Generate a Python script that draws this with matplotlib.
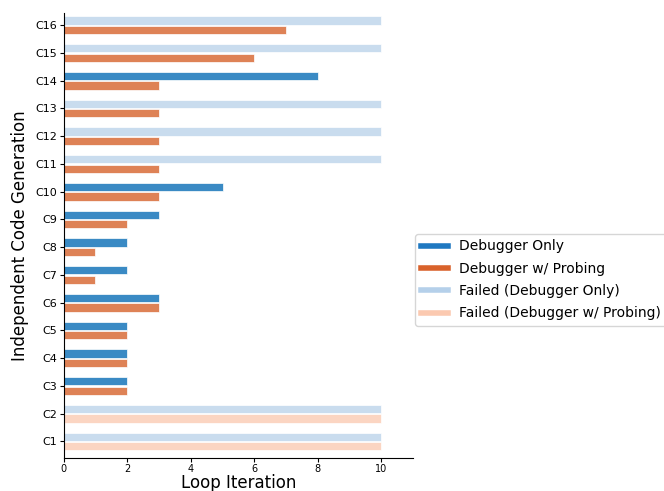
import numpy as np
import matplotlib.pyplot as plt
from matplotlib.lines import Line2D

# data (None = failed, drawn at max iterations)
categories = ["C%d" % i for i in range(1, 17)]
debugger_only = [None, None, 2, 2, 2, 3, 2, 2, 3, 5, None, None, None, 8, None, None]
debugger_probing = [None, None, 2, 2, 2, 3, 1, 1, 2, 3, 3, 3, 3, 3, 6, 7]
max_iter = 10

c_blue = '#3a8ac4'
c_orange = '#de8256'
c_fail_blue = '#c9dcee'
c_fail_orange = '#fbd5c2'

fig = plt.figure(figsize=(6.64, 4.91), dpi=100)
ax = fig.add_axes([0.096, 0.067, 0.526, 0.907])

y = np.arange(len(categories))
h = 0.3
off = 0.17

for i, (d, p) in enumerate(zip(debugger_only, debugger_probing)):
    if d is None:
        ax.barh(y[i] + off, max_iter, height=h, color=c_fail_blue, edgecolor='white', linewidth=0.5)
    else:
        ax.barh(y[i] + off, d, height=h, color=c_blue, edgecolor='white', linewidth=0.5)
    if p is None:
        ax.barh(y[i] - off, max_iter, height=h, color=c_fail_orange, edgecolor='white', linewidth=0.5)
    else:
        ax.barh(y[i] - off, p, height=h, color=c_orange, edgecolor='white', linewidth=0.5)

ax.set_yticks(y)
ax.set_yticklabels(categories, fontsize=8)
ax.set_xticks([0, 2, 4, 6, 8, 10])
ax.tick_params(axis='x', labelsize=7, length=3, pad=1.5)
ax.tick_params(axis='y', length=3, pad=2)
ax.set_xlim(0, 11)
ax.set_ylim(-0.6, 15.45)
ax.spines['top'].set_visible(False)
ax.spines['right'].set_visible(False)
ax.set_xlabel('Loop Iteration', fontsize=12, labelpad=0)
ax.set_ylabel('Independent Code Generation', fontsize=12)

handles = [
    Line2D([0], [0], color='#1f78c1', lw=4),
    Line2D([0], [0], color='#d9622b', lw=4),
    Line2D([0], [0], color='#b5d0ea', lw=4),
    Line2D([0], [0], color='#fbc9b0', lw=4),
]
labels = ['Debugger Only', 'Debugger w/ Probing', 'Failed (Debugger Only)', 'Failed (Debugger w/ Probing)']
fig.legend(handles, labels, loc='center left', bbox_to_anchor=(0.625, 0.43), fontsize=10,
           handlelength=2.0, labelspacing=0.6, borderaxespad=0)

fig.savefig('out.png', dpi=100)
